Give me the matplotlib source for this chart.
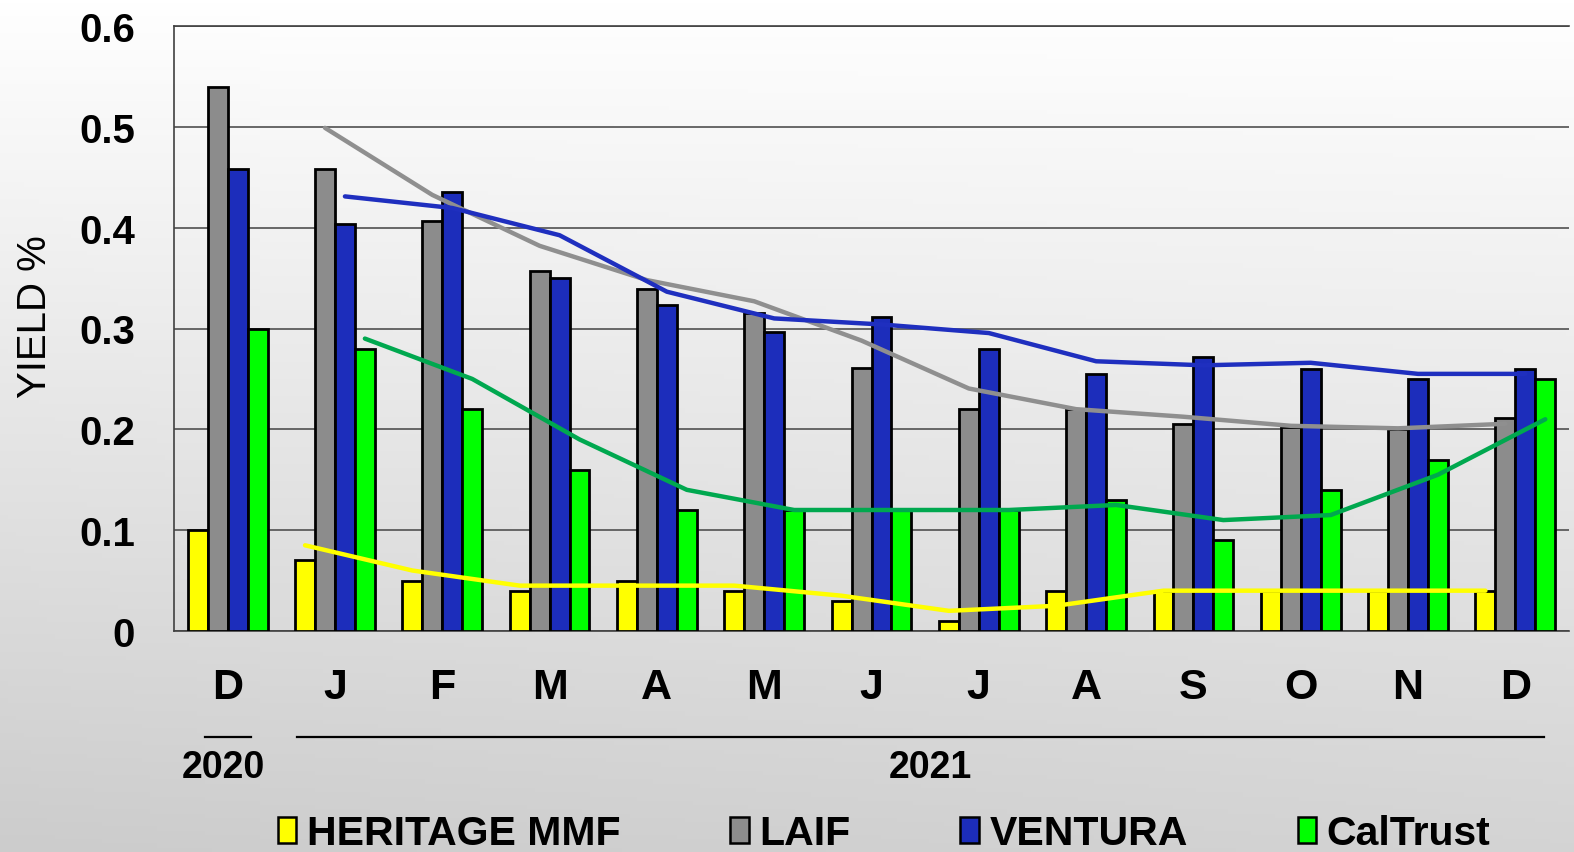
import numpy as np
import matplotlib
matplotlib.use("Agg")
import matplotlib.pyplot as plt
from matplotlib.patches import Patch
from matplotlib.lines import Line2D

# ---- data ----
months = ["D", "J", "F", "M", "A", "M", "J", "J", "A", "S", "O", "N", "D"]
series_names = ["HERITAGE MMF", "LAIF", "VENTURA", "CalTrust"]
heritage = [0.10, 0.07, 0.05, 0.04, 0.05, 0.04, 0.03, 0.01, 0.04, 0.04, 0.04, 0.04, 0.04]
laif     = [0.54, 0.458, 0.407, 0.357, 0.339, 0.315, 0.261, 0.220, 0.220, 0.205, 0.202, 0.200, 0.211]
ventura  = [0.458, 0.404, 0.435, 0.350, 0.323, 0.297, 0.311, 0.280, 0.255, 0.272, 0.260, 0.250, 0.260]
caltrust = [0.30, 0.28, 0.22, 0.16, 0.12, 0.12, 0.12, 0.12, 0.13, 0.09, 0.14, 0.17, 0.25]
years = ["2020", "2021"]

bar_colors = ["#FFFF00", "#8C8C8C", "#1C2DBB", "#00FF00"]
line_colors = ["#FFFF00", "#8F8F8F", "#1F2FBF", "#00A84F"]

W, H = 1574, 853
fig = plt.figure(figsize=(W / 100, H / 100), dpi=100)

# background gradient
bg = fig.add_axes([0, 0, 1, 1], zorder=-10)
yy, xx = np.mgrid[0:1:200j, 0:1:200j]
g = 0.80 + 0.20 * np.clip(1.0 - 0.85 * yy - 0.15 * (1 - xx) * yy, 0, 1)
bg.imshow(np.dstack([g, g, g]), extent=[0, 1, 0, 1], aspect="auto", origin="upper")
bg.axis("off")

narrow = ["Liberation Sans Narrow", "Liberation Sans", "DejaVu Sans"]
wide = ["Liberation Sans", "DejaVu Sans"]

ax = fig.add_axes([174 / W, 1 - 632 / H, (1569 - 174) / W, (632 - 27) / H])
ax.set_facecolor("none")

x = np.arange(len(months))
bw = 0.186
data = [np.array(heritage), np.array(laif), np.array(ventura), np.array(caltrust)]
for i, (vals, c) in enumerate(zip(data, bar_colors)):
    off = (i - 1.5) * bw
    ax.bar(x + off, vals, width=bw, color=c, edgecolor="black", linewidth=2.0, zorder=3)

for i, (vals, c) in enumerate(zip(data, line_colors)):
    off = (i - 1.5) * bw
    ma = (vals[1:] + vals[:-1]) / 2.0
    ax.plot(x[1:] + off, ma, color=c, linewidth=3.2, zorder=4, solid_capstyle="round")

ax.set_xlim(-0.5, len(months) - 0.5)
ax.set_ylim(0, 0.6)
ax.set_yticks([0, 0.1, 0.2, 0.3, 0.4, 0.5, 0.6])
ax.set_yticklabels(["0", "0.1", "0.2", "0.3", "0.4", "0.5", "0.6"])
ax.yaxis.grid(True, color="#505050", linewidth=1.2, zorder=0)
ax.set_axisbelow(True)
ax.tick_params(axis="y", length=0, pad=28, labelsize=29)
for lab in ax.get_yticklabels():
    lab.set_fontfamily(wide)
    lab.set_fontweight("bold")
ax.set_xticks(x)
ax.set_xticklabels(months)
ax.tick_params(axis="x", length=0, pad=26, labelsize=31)
for lab in ax.get_xticklabels():
    lab.set_fontfamily(narrow)
    lab.set_fontweight("bold")

ax.spines["right"].set_visible(False)
for s in ["left", "top", "bottom"]:
    ax.spines[s].set_color("#404040")
    ax.spines[s].set_linewidth(1.2)

# year grouping lines and labels
trans = ax.get_xaxis_transform()
ly = -(738 - 632) / (632 - 27)
ty = -(768 - 632) / (632 - 27)
ax.add_line(Line2D([-0.215, 0.22], [ly, ly], transform=trans, color="black", lw=1.6, clip_on=False))
ax.add_line(Line2D([0.65, 12.27], [ly, ly], transform=trans, color="black", lw=1.6, clip_on=False))
ax.text(-0.04, ty, years[0], transform=trans, ha="center", va="center", fontsize=27,
        fontweight="bold", family=narrow, clip_on=False)
ax.text(6.55, ty, years[1], transform=trans, ha="center", va="center", fontsize=27,
        fontweight="bold", family=narrow, clip_on=False)

fig.text(35 / W, 1 - 317 / H, "YIELD %", rotation=90, ha="center", va="center",
         fontsize=29, family=wide)

handles = [Patch(facecolor=c, edgecolor="black", linewidth=1.8) for c in bar_colors]
leg = fig.legend(handles, series_names, loc="center", bbox_to_anchor=(884 / W, 1 - 834 / H),
                 ncol=4, frameon=False, handlelength=0.46, handleheight=0.6,
                 handletextpad=0.25, columnspacing=2.68, borderpad=0,
                 prop={"family": narrow, "weight": "bold", "size": 29.5})

fig.savefig("out.png", dpi=100)
